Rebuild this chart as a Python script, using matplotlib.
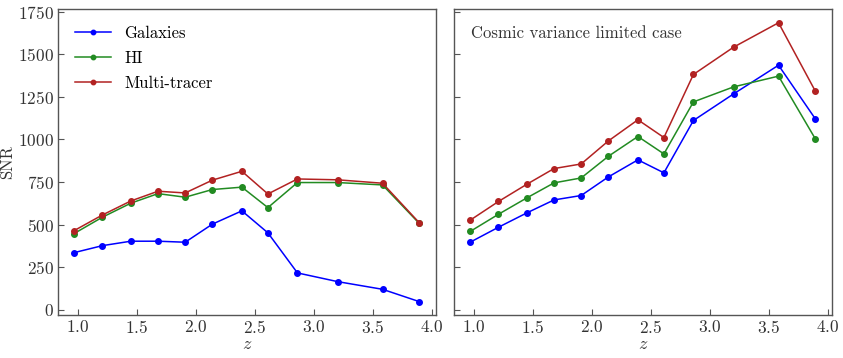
import numpy as np
import matplotlib
matplotlib.use("Agg")
import matplotlib.pyplot as plt

# дані
z = [0.97, 1.21, 1.45, 1.68, 1.91, 2.14, 2.39, 2.61, 2.86, 3.20, 3.58, 3.89]

gal = [336, 377, 403, 403, 397, 503, 581, 452, 217, 166, 121, 49]
hi = [448, 544, 626, 682, 661, 706, 720, 600, 747, 747, 733, 508]
multi = [465, 557, 639, 696, 686, 761, 813, 680, 768, 763, 743, 512]

gal_cv = [397, 485, 569, 645, 671, 780, 880, 804, 1111, 1267, 1435, 1122]
hi_cv = [460, 561, 657, 745, 774, 901, 1017, 915, 1220, 1308, 1371, 1005]
multi_cv = [526, 636, 737, 829, 856, 991, 1115, 1011, 1381, 1541, 1684, 1285]

labels = ["Galaxies", "HI", "Multi-tracer"]
colors = ["#0000ff", "#228b22", "#b22222"]

plt.rcParams["font.family"] = ["cmr10", "DejaVu Serif"]
plt.rcParams["mathtext.fontset"] = "cm"
plt.rcParams["axes.formatter.use_mathtext"] = True
plt.rcParams["axes.unicode_minus"] = False

fig, axes = plt.subplots(1, 2, figsize=(8.43, 3.58), dpi=100, sharey=True)
fig.subplots_adjust(left=0.069, right=0.987, top=0.975, bottom=0.12, wspace=0.048)

for ax, series in zip(axes, [(gal, hi, multi), (gal_cv, hi_cv, multi_cv)]):
    for y, lab, c in zip(series, labels, colors):
        ax.plot(z, y, "-o", color=c, lw=1.1, ms=4, label=lab)
    ax.set_xlim(0.835, 4.033)
    ax.set_ylim(-30, 1765)
    ax.set_xticks([1.0, 1.5, 2.0, 2.5, 3.0, 3.5, 4.0])
    ax.set_yticks([0, 250, 500, 750, 1000, 1250, 1500, 1750])
    ax.tick_params(direction="in", length=4, colors="#555555", labelcolor="#333333",
                   labelsize=12.5, top=False, right=False, pad=3)
    for sp in ax.spines.values():
        sp.set_color("#555555")
        sp.set_linewidth(1.0)
    ax.set_xlabel(r"$z$", fontsize=13, color="#333333", labelpad=0)

axes[0].set_ylabel("SNR", fontsize=12, color="#333333", labelpad=2)
axes[0].legend(loc="upper left", frameon=False, fontsize=12, markerscale=0.8,
               handlelength=2.2, labelspacing=0.6, handletextpad=0.8,
               borderaxespad=0.58)
axes[1].text(0.045, 0.92, "Cosmic variance limited case", transform=axes[1].transAxes,
             fontsize=12, color="#333333", va="center", ha="left")

plt.savefig("out.png", dpi=100)
